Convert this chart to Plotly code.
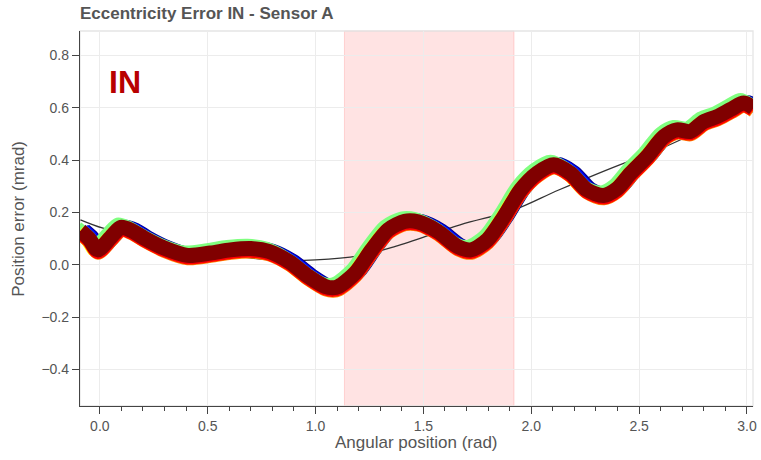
import numpy as np
import plotly.graph_objects as go

# Measured position error along the angular sweep (centre of the run bundle)
angle = [-0.09, -0.05, -0.01, 0.05, 0.098, 0.15, 0.206, 0.298, 0.406, 0.513,
         0.605, 0.70, 0.783, 0.876, 0.968, 1.045, 1.08, 1.106, 1.183, 1.26,
         1.336, 1.413, 1.475, 1.567, 1.659, 1.72, 1.797, 1.874, 1.951, 2.028,
         2.104, 2.181, 2.258, 2.335, 2.398, 2.459, 2.537, 2.614, 2.676, 2.737,
         2.80, 2.862, 2.924, 2.985, 3.03]
err_center = [0.13, 0.10, 0.057, 0.105, 0.143, 0.13, 0.102, 0.064, 0.036, 0.045,
              0.057, 0.062, 0.051, 0.013, -0.045, -0.083, -0.088, -0.083, -0.032, 0.057,
              0.134, 0.166, 0.164, 0.128, 0.070, 0.057, 0.096, 0.185, 0.287, 0.351,
              0.383, 0.351, 0.287, 0.265, 0.291, 0.349, 0.414, 0.490, 0.516, 0.510,
              0.548, 0.567, 0.594, 0.619, 0.60]

# Eccentricity fit curve
fit_angle = [-0.09, 0.015, 0.2, 0.4, 0.645, 0.8, 1.0, 1.2, 1.37, 1.67,
             1.92, 2.13, 2.44, 2.52, 2.75, 3.0]
fit_err = [0.172, 0.14, 0.105, 0.068, 0.032, 0.019, 0.019, 0.034, 0.07, 0.153,
           0.21, 0.287, 0.392, 0.415, 0.50, 0.60]

# Individual runs: colour (jet order, last drawn on top) and small phase / level offsets
run_colors = ['#00008f', '#0000ff', '#0080ff', '#00ffff', '#80ff80',
              '#ffff00', '#ff8000', '#ff0000', '#800000']
run_dx = [0.020, 0.014, 0.004, -0.014, -0.015, -0.008, 0.002, 0.001, 0.0]
run_dy = [0.004, 0.003, 0.004, 0.004, 0.013, -0.004, -0.011, -0.006, 0.0]
run_width = [13, 13, 13, 13, 13, 14, 14, 15, 15]

# Highlighted angular zone
zone = [1.134, 1.92]

x_range = [-0.092, 3.028]
y_range = [-0.54, 0.894]

fig = go.Figure()

fig.add_trace(go.Scatter(
    x=fit_angle, y=fit_err, mode='lines',
    line=dict(color='#333333', width=1.3, shape='spline'),
    hoverinfo='skip'))

ang = np.array(angle)
err = np.array(err_center)
for color, dx, dy, w in zip(run_colors, run_dx, run_dy, run_width):
    fig.add_trace(go.Scatter(
        x=ang + dx, y=err + dy, mode='lines',
        line=dict(color=color, width=w, shape='spline', smoothing=0.8),
        hoverinfo='skip'))

fig.add_shape(type='rect', xref='x', yref='paper', x0=zone[0], x1=zone[1], y0=0, y1=1,
              fillcolor='rgba(255,0,0,0.11)', line=dict(color='rgba(255,0,0,0.14)', width=1),
              layer='below')
fig.add_shape(type='rect', xref='paper', yref='paper', x0=0, x1=1, y0=0, y1=1,
              line=dict(color='#e5e5e5', width=1.3), layer='below')

font_main = 'Liberation Sans, Arial, sans-serif'
axis_common = dict(
    showline=True, linecolor='#444444', linewidth=1.3,
    ticks='outside', ticklen=7, tickwidth=1.3, tickcolor='#444444',
    showgrid=True, gridcolor='#ececec', gridwidth=1, zeroline=False,
    tickfont=dict(family=font_main, size=14, color='#555555'),
    tickformat='.1f',
)

fig.update_xaxes(range=x_range, tick0=0, dtick=0.5,
                 minor=dict(tick0=0, dtick=0.1, ticks='outside', ticklen=4,
                            tickwidth=1.3, tickcolor='#444444', showgrid=False),
                 **axis_common)
fig.update_yaxes(range=y_range, tick0=0, dtick=0.2, **axis_common)

fig.add_annotation(x=0.035, y=0.70, xref='x', yref='y', text='<b>IN</b>',
                   showarrow=False, xanchor='left', yanchor='middle',
                   font=dict(family=font_main, size=32, color='#b80000'))
fig.add_annotation(x=0.5, y=-0.096, xref='paper', yref='paper',
                   text='Angular position (rad)', showarrow=False,
                   xanchor='center', yanchor='middle',
                   font=dict(family=font_main, size=17, color='#555555'))
fig.add_annotation(x=-0.0916, y=0.5, xref='paper', yref='paper',
                   text='Position error (mrad)', showarrow=False, textangle=-90,
                   xanchor='center', yanchor='middle',
                   font=dict(family=font_main, size=17, color='#555555'))

fig.update_layout(
    width=761, height=460,
    margin=dict(l=80, r=4, t=31, b=54),
    paper_bgcolor='white', plot_bgcolor='white',
    showlegend=False,
    title=dict(text='<b>Eccentricity Error IN - Sensor A</b>',
               xref='container', x=80 / 761, xanchor='left',
               yref='container', y=1 - 13 / 460, yanchor='middle',
               font=dict(family=font_main, size=17, color='#555555')),
)

fig.write_html('out.html')
